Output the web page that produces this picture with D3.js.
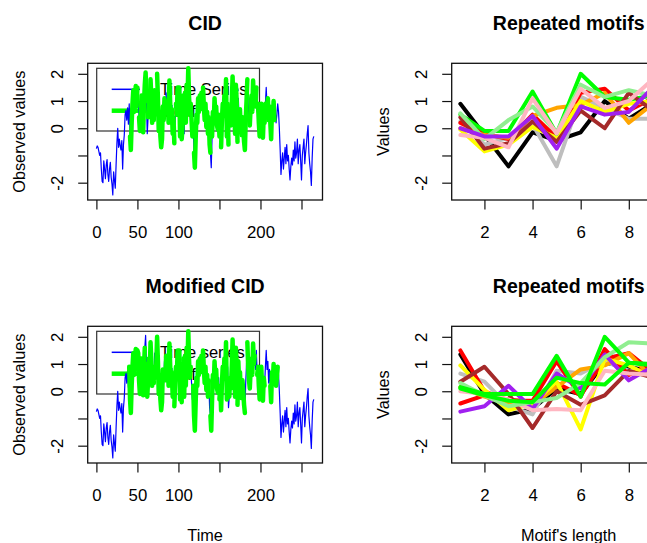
<!DOCTYPE html>
<html>
<head>
<meta charset="utf-8">
<script src="https://cdn.jsdelivr.net/npm/d3@7"></script>
<style>
  body { margin: 0; background: #fff; }
  svg { display: block; font-family: "Liberation Sans", Arial, sans-serif; }
</style>
</head>
<body>
<svg id="chart" width="647" height="543"></svg>
<script>
// time series (index 0..265)
var series = [
  -0.75, -0.65, -0.7, -0.85, -1.0, -0.9, -1.5, -1.95, -2.0, -1.2,
  -1.5, -1.85, -1.35, -1.15, -1.7, -1.95, -1.5, -1.25, -1.8, -2.05,
  -2.45, -1.6, -1.9, -2.2, -1.35, -0.55, 0.0, -0.7, -0.4, -0.65,
  -0.8, -0.45, -1.5, -0.6, -0.25, 0.5, 0.65, 0.3, 0.75, 0.15,
  0.9, -0.3, -0.8, 0.2, 0.9, 1.4, 0.6, 1.2, 1.55, 0.8,
  1.5, 1.4, 0.4, -0.1, 0.5, 1.2, 0.3, -0.15, 0.9, 1.6,
  2.05, 1.0, -0.2, 0.4, 1.2, 0.7, 1.8, 1.1, 0.2, 0.9,
  0.3, 1.4, 0.5, 1.0, 2.0, 1.1, -0.1, 0.6, -0.3, -0.7,
  -0.4, 0.8, 0.3, 1.1, 0.4, 1.3, 0.6, 1.0, 0.2, 1.75,
  0.9, 0.2, 0.7, -0.2, 0.4, -0.55, 0.3, 0.9, 0.5, 1.5,
  0.8, 1.5, -0.3, 1.0, -0.4, 0.05, 1.2, -0.2, 1.3, 0.2,
  1.6, 1.0, 2.2, 1.1, 0.5, 0.9, 0.3, -0.3, 0.2, -0.9,
  -1.45, -0.4, 0.5, 0.2, 1.1, 0.6, 1.2, 0.7, 1.3, 0.9,
  1.5, 0.8, 0.3, 0.9, 0.05, 0.6, -0.2, 0.4, -0.6, -0.9,
  -1.45, -0.3, 0.6, 0.2, 1.1, 0.5, 0.8, 0.1, -0.05, 0.5,
  -0.3, 0.2, -0.7, 0.3, 0.9, 0.5, 1.2, 0.7, 1.8, -0.3,
  0.9, -0.6, -0.2, 0.5, 0.1, 0.9, 1.9, 0.8, 1.2, -0.2,
  1.6, 1.0, -0.5, 1.1, 0.3, 0.7, -0.1, -0.25, 0.4, 0.0,
  -0.5, -0.8, 0.3, 1.0, 1.8, 0.9, 0.4, 0.1, 0.8, 1.2,
  0.6, 1.75, 1.0, 1.3, 0.8, 1.5, 0.6, 0.9, 0.2, -0.3,
  0.3, 0.9, 0.1, -0.35, 0.5, 0.2, 0.9, 1.5, 0.8, 1.1,
  0.3, 0.8, 0.2, -0.4, 0.7, 0.3, 1.0, 0.3, 0.6, 0.2,
  0.5, 0.9, 0.6, 0.0, -0.8, -1.7, -1.2, -0.9, -1.5, -1.1,
  -0.7, -1.3, -0.6, -1.2, -1.0, -1.5, -1.9, -1.4, -1.1, -1.35,
  -0.8, -1.2, -0.5, -1.1, -0.9, -0.4, -1.3, -0.8, -0.6, -1.2,
  -1.9, -1.0, -0.7, -0.4, -1.3, -0.9, -0.6, -0.2, 0.1, -0.9,
  -1.3, -1.6, -2.1, -1.1, -0.4, -0.3
];

// where the motif occurrences start (10 points each)
var motifLength = 10;
var cidStarts = [41, 52, 63, 74, 86, 97, 108, 119, 130, 141, 152, 163, 175, 186, 197, 208];
var modCidStarts = [40, 50, 61, 72, 84, 95, 106, 118, 128, 139, 150, 162, 172, 184, 196, 212];

var motifPositions = [1, 2, 3, 4, 5, 6, 7, 8, 9, 10];

var cidColors = ["black", "#bebebe", "red", "orange", "yellow", "#00ff00", "brown", "#90ee90", "#ffb6c1", "#a020f0"];
var cidMotifs = [
  [0.9, -0.25, -1.4, -0.15, -0.45, -0.15, 1.0, 0.35, 0.9, 0.6],
  [0.25, -0.6, -0.35, 0.15, -1.4, 1.15, 0.75, 0.35, 0.35, 0.5],
  [0.2, -0.2, -0.4, 0.5, -0.35, 1.3, 1.45, 0.65, 1.1, 0.8],
  [0.0, -0.25, -0.35, 0.45, 0.75, 0.85, 1.3, 0.2, 0.9, 0.7],
  [-0.05, -0.85, -0.6, 0.05, -0.35, 1.0, 0.6, 0.9, 1.0, 0.7],
  [0.5, -0.1, -0.1, 1.35, -0.2, 2.0, 1.15, 1.05, 1.2, 1.0],
  [0.4, -0.75, -0.55, 0.25, -0.5, 0.65, 0.0, 1.3, 0.65, 0.9],
  [0.55, -0.4, 0.3, 0.8, -0.15, 1.6, 1.15, 1.4, 1.2, 1.1],
  [-0.25, -0.35, -0.7, 1.1, -0.2, 1.45, 0.75, 1.0, 1.8, 1.2],
  [0.0, -0.3, -0.3, 0.45, -0.75, 0.8, 0.5, 0.6, 1.5, 1.0]
];

var modCidColors = ["black", "#bebebe", "red", "red", "orange", "yellow", "brown", "#a020f0", "#ffb6c1", "#90ee90", "#00ff00", "#00ff00"];
var modCidMotifs = [
  [1.35, -0.1, -0.85, -0.65, 0.1, -0.1, 1.05, 0.9, 0.7, 0.8],
  [0.65, 0.35, -0.55, -0.85, 0.75, 0.65, 1.1, 0.75, 0.7, 0.6],
  [1.5, 0.0, -0.35, -0.35, 1.1, -0.2, 1.55, 0.6, 1.0, 0.8],
  [-0.45, -0.15, -0.3, -0.4, 0.3, -0.15, 1.2, 1.4, 0.7, 0.9],
  [0.15, -0.2, -0.45, -0.5, 0.15, 0.8, 0.95, 1.4, 0.45, 0.7],
  [0.95, 0.05, -0.7, -0.45, 0.35, -1.4, 1.2, 0.95, 0.5, 0.7],
  [0.35, 0.9, -0.1, -1.35, 0.0, -0.5, -0.15, 0.75, 0.5, 0.6],
  [-0.75, -0.55, 0.2, -0.65, 0.65, 0.1, 1.35, 0.4, 0.9, 0.7],
  [0.0, -0.1, -0.3, -0.7, -0.65, -0.7, 0.75, 0.65, 0.6, 0.5],
  [0.3, -0.15, -0.55, -0.4, -0.25, 0.3, 1.25, 1.8, 1.75, 1.6],
  [0.15, -0.1, -0.1, -0.1, 1.3, -0.2, 2.0, 1.05, 1.0, 0.9],
  [0.1, -0.15, -0.35, -0.4, 0.5, 0.3, 0.25, 1.05, 0.95, 0.9]
];

var timeTicks = [0, 50, 100, 150, 200, 250];
var timeTickLabels = ["0", "50", "100", "", "200", ""];
var lengthTicks = [2, 4, 6, 8, 10];
// "10" falls outside the picture
var lengthTickLabels = ["2", "4", "6", "8", ""];
var valueTicks = [-2, -1, 0, 1, 2];
var valueTickLabels = ["-2", "", "0", "1", "2"];

// layout (R style mfrow 2x2)
var ROW = 263;
var BOX = { TOP: 63.3, BOTTOM: 200 };
var LEFT_BOX = { X0: 87.7, X1: 322.5 };
var RIGHT_BOX = { X0: 451.7, X1: 685.6 };

var svg = d3.select("#chart");

// R pads the data range by 4% on each side
function rPad(ext) {
  var d = (ext[1] - ext[0]) * 0.04;
  return [ext[0] - d, ext[1] + d];
}

var yDomain = rPad(d3.extent(series));
var idx = series.map(function(d, i) { return i; });

function panel(row, box, id) {
  var g = svg.append("g").attr("transform", "translate(0," + row * ROW + ")");
  g.append("clipPath").attr("id", id)
    .append("rect")
    .attr("x", box.X0).attr("y", BOX.TOP)
    .attr("width", box.X1 - box.X0).attr("height", BOX.BOTTOM - BOX.TOP);
  return g;
}

function axes(g, x, y, box, xt, xl) {
  var xa = g.append("g")
    .attr("transform", "translate(0," + BOX.BOTTOM + ")")
    .call(d3.axisBottom(x).tickValues(xt)
      .tickFormat(function(d, i) { return xl[i]; })
      .tickSize(9.5).tickSizeOuter(0));
  xa.attr("font-size", null).attr("font-family", null);
  xa.select(".domain").remove();
  xa.selectAll("line").attr("stroke", "#111").attr("stroke-width", 1.2);
  xa.selectAll("text").attr("y", 38.3).attr("dy", null)
    .attr("font-size", 16.8).attr("fill", "#000");

  var ya = g.append("g")
    .attr("transform", "translate(" + box.X0 + ",0)")
    .call(d3.axisLeft(y).tickValues(valueTicks)
      .tickFormat(function(d, i) { return valueTickLabels[i]; })
      .tickSize(9.5).tickSizeOuter(0));
  ya.attr("font-size", null).attr("font-family", null);
  ya.select(".domain").remove();
  ya.selectAll("line").attr("stroke", "#111").attr("stroke-width", 1.2);
  ya.selectAll("text").attr("x", 0).attr("dy", null)
    .attr("text-anchor", "middle")
    .attr("transform", "translate(-25,0) rotate(-90)")
    .attr("font-size", 16.8).attr("fill", "#000");

  g.append("rect")
    .attr("x", box.X0).attr("y", BOX.TOP)
    .attr("width", box.X1 - box.X0).attr("height", BOX.BOTTOM - BOX.TOP)
    .attr("fill", "none").attr("stroke", "#111").attr("stroke-width", 1.3);
}

function titles(g, box, main, xlab, ylab) {
  var cx = (box.X0 + box.X1) / 2;
  g.append("text").attr("x", cx).attr("y", 30)
    .attr("text-anchor", "middle").attr("font-weight", "bold")
    .attr("font-size", 19.5).text(main);
  if (xlab) {
    g.append("text").attr("x", cx).attr("y", 278.4)
      .attr("text-anchor", "middle").attr("font-size", 16.3).text(xlab);
  }
  g.append("text")
    .attr("transform", "translate(" + (box.X0 - 62.7) + "," + ((BOX.TOP + BOX.BOTTOM) / 2) + ") rotate(-90)")
    .attr("text-anchor", "middle").attr("font-size", 16.3).text(ylab);
}

function seriesPanel(row, main, starts, seriesName, xlab) {
  var g = panel(row, LEFT_BOX, "clipL" + row);
  var x = d3.scaleLinear().domain(rPad(d3.extent(idx))).range([LEFT_BOX.X0, LEFT_BOX.X1]);
  var y = d3.scaleLinear().domain(yDomain).range([BOX.BOTTOM, BOX.TOP]);

  // legend (drawn first, lines go over it)
  var lg = g.append("g");
  lg.append("rect").attr("x", 96.7).attr("y", 68.3).attr("width", 162.8).attr("height", 62.7)
    .attr("fill", "none").attr("stroke", "#333").attr("stroke-width", 1.2);
  lg.append("line").attr("x1", 111.7).attr("x2", 140).attr("y1", 89.3).attr("y2", 89.3)
    .attr("stroke", "#0000ff").attr("stroke-width", 1.5);
  lg.append("line").attr("x1", 111.7).attr("x2", 140).attr("y1", 110.7).attr("y2", 110.7)
    .attr("stroke", "#00ff00").attr("stroke-width", 4.5);
  lg.append("text").attr("x", 160).attr("y", 95.3).attr("font-size", 16.5).text(seriesName);
  lg.append("text").attr("x", 160).attr("y", 116.7).attr("font-size", 16.5).text("Motif");

  var line = d3.line()
    .x(function(d) { return x(d[0]); })
    .y(function(d) { return y(d[1]); });

  var plot = g.append("g").attr("clip-path", "url(#clipL" + row + ")");
  plot.append("path")
    .attr("d", line(series.map(function(d, i) { return [i, d]; })))
    .attr("fill", "none").attr("stroke", "#0000ff").attr("stroke-width", 1.2)
    .attr("stroke-linejoin", "round");

  starts.forEach(function(s) {
    var seg = series.slice(s, s + motifLength).map(function(d, i) { return [s + i, d]; });
    plot.append("path").attr("d", line(seg))
      .attr("fill", "none").attr("stroke", "#00ff00").attr("stroke-width", 4.5)
      .attr("stroke-linejoin", "round").attr("stroke-linecap", "round");
  });

  axes(g, x, y, LEFT_BOX, timeTicks, timeTickLabels);
  titles(g, LEFT_BOX, main, xlab, "Observed values");
}

function motifPanel(row, main, motifs, colors, xlab) {
  var g = panel(row, RIGHT_BOX, "clipR" + row);
  var x = d3.scaleLinear().domain(rPad(d3.extent(motifPositions))).range([RIGHT_BOX.X0, RIGHT_BOX.X1]);
  var y = d3.scaleLinear().domain(yDomain).range([BOX.BOTTOM, BOX.TOP]);
  var line = d3.line()
    .x(function(d, i) { return x(motifPositions[i]); })
    .y(function(d) { return y(d); });

  var plot = g.append("g").attr("clip-path", "url(#clipR" + row + ")");
  motifs.forEach(function(m, k) {
    plot.append("path").attr("d", line(m))
      .attr("fill", "none").attr("stroke", colors[k]).attr("stroke-width", 4)
      .attr("stroke-linejoin", "round").attr("stroke-linecap", "round");
  });

  axes(g, x, y, RIGHT_BOX, lengthTicks, lengthTickLabels);
  titles(g, RIGHT_BOX, main, xlab, "Values");
}

seriesPanel(0, "CID", cidStarts, "Time Series", null);
motifPanel(0, "Repeated motifs", cidMotifs, cidColors, null);
seriesPanel(1, "Modified CID", modCidStarts, "Time series", "Time");
motifPanel(1, "Repeated motifs", modCidMotifs, modCidColors, "Motif's length");
</script>
</body>
</html>
